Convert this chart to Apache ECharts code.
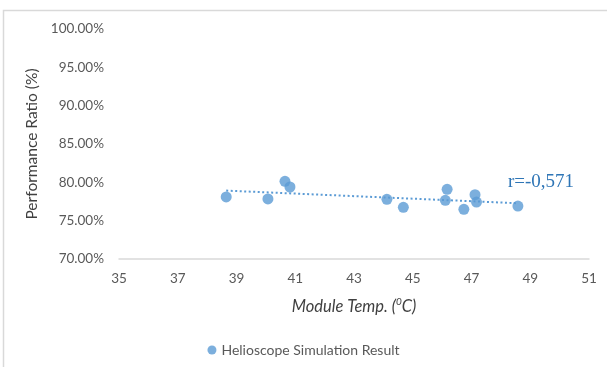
<!DOCTYPE html>
<html><head><meta charset="utf-8">
<script src="https://cdn.jsdelivr.net/npm/echarts@6/dist/echarts.min.js"></script>
<style>html,body{margin:0;padding:0;background:#fff}#c{width:607px;height:367px}</style>
</head><body><div id="c"></div>
<script>
const moduleTemp = [38.65, 40.07, 40.65, 40.82, 44.12, 44.68, 46.17, 46.11, 46.74, 47.12, 47.17, 48.58];
const perfRatio  = [78.09, 77.83, 80.13, 79.39, 77.79, 76.74, 79.09, 77.65, 76.48, 78.39, 77.43, 76.91];
const xTicks = [35, 37, 39, 41, 43, 45, 47, 49, 51];
const yTicks = [70, 75, 80, 85, 90, 95, 100];
const seriesName = 'Helioscope Simulation Result';
const rLabel = 'r=-0,571';

// linear trendline (least squares) from the data
const n = moduleTemp.length;
const mx = moduleTemp.reduce((a,b)=>a+b,0)/n;
const my = perfRatio.reduce((a,b)=>a+b,0)/n;
let sxy=0,sxx=0;
for(let i=0;i<n;i++){sxy+=(moduleTemp[i]-mx)*(perfRatio[i]-my);sxx+=(moduleTemp[i]-mx)**2;}
const slope=sxy/sxx, icpt=my-slope*mx;
const x0=Math.min(...moduleTemp), x1=Math.max(...moduleTemp);
const trend=[[x0,icpt+slope*x0],[x1,icpt+slope*x1]];

const chart = echarts.init(document.getElementById('c'), null, {renderer:'canvas'});
const font = 'Lato, "Open Sans", sans-serif';
chart.setOption({
  animation:false,
  backgroundColor:'#fff',
  graphic:[{type:'polyline',shape:{points:[[3.5,367],[3.5,10.5],[607,10.5]]},style:{stroke:'#d9d9d9',lineWidth:1.5,fill:null},silent:true}],
  grid:{left:119,right:18,top:29,bottom:108},
  xAxis:{type:'value',min:xTicks[0],max:xTicks[xTicks.length-1],interval:2,
    axisLine:{show:true,onZero:false,lineStyle:{color:'#d9d9d9',width:1.5}},
    axisTick:{show:false},splitLine:{show:false},
    axisLabel:{color:'#595959',fontSize:13.5,fontFamily:font,margin:13},
    name:'Module Temp. ({s|0}C)',nameLocation:'middle',nameGap:38,
    nameTextStyle:{color:'#404040',fontSize:16.5,fontStyle:'italic',fontFamily:font,
      rich:{s:{fontSize:10,fontStyle:'italic',color:'#404040',fontFamily:font,verticalAlign:'top',padding:[0,0,9,0]}}}
  },
  yAxis:{type:'value',min:yTicks[0],max:yTicks[yTicks.length-1],interval:5,
    axisLine:{show:false},axisTick:{show:false},splitLine:{show:false},
    axisLabel:{color:'#595959',fontSize:13.5,fontFamily:font,margin:15,formatter:v=>v.toFixed(2)+'%'},
    name:'Performance Ratio (%)',nameLocation:'middle',nameGap:78,nameRotate:90,
    nameTextStyle:{color:'#404040',fontSize:15.5,fontFamily:font}
  },
  legend:{data:[{name:seriesName,icon:'circle'}],bottom:5,left:'center',itemWidth:9,itemHeight:9,itemGap:5,
    textStyle:{color:'#595959',fontSize:14,fontFamily:font}},
  series:[
    {name:seriesName,type:'scatter',symbolSize:11,itemStyle:{color:'#5B9BD5'},
     data:moduleTemp.map((x,i)=>[x,perfRatio[i]]),z:3},
    {name:'trend',type:'line',data:trend,symbol:'none',silent:true,
     lineStyle:{color:'#5B9BD5',width:2,type:[2,2.5]},z:2,
     endLabel:{show:true,formatter:rLabel,color:'#2E75B6',fontSize:19,fontFamily:'"Liberation Serif", serif',offset:[-18,-21],align:'left'}}
  ]
});
</script></body></html>
